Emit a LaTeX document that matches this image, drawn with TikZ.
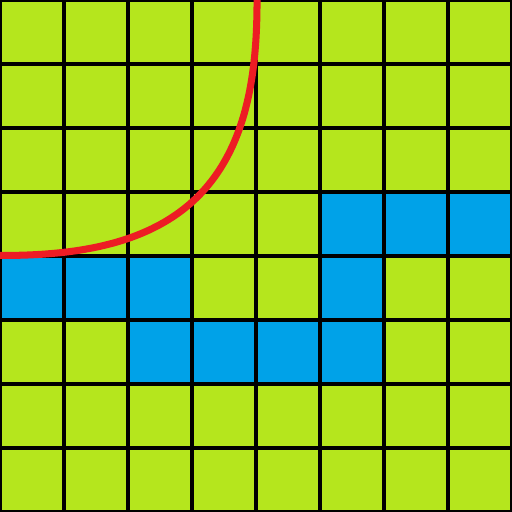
\documentclass[tikz,border=0pt]{standalone}
\definecolor{limeg}{RGB}{181,230,29}
\definecolor{paintblue}{RGB}{0,162,232}
\definecolor{paintred}{RGB}{237,28,36}
\begin{document}
\begin{tikzpicture}[x=0.8cm,y=0.8cm,
  cellfill/.style={fill=paintblue},
  gridline/.style={black,line width=1.25pt},
  curveline/.style={paintred,line width=2.5pt}]
\useasboundingbox (0,0) rectangle (8,8);
\clip (0,0) rectangle (8,8);
\fill[limeg] (0,0) rectangle (8,8);
\foreach \c/\r in {5/4,6/4,7/4,0/3,1/3,2/3,5/3,2/2,3/2,4/2,5/2}
  \fill[cellfill] (\c,\r) rectangle ++(1,1);
\foreach \i in {0,...,8} {
  \draw[gridline] (\i,-0.1) -- (\i,8.1);
  \draw[gridline] (-0.1,\i) -- (8.1,\i);
}
\draw[curveline] (-0.2,4.008) -- plot[domain=2:88,samples=120,variable=\t]
  ({4.016*(1-pow(cos(\t),4.233))},{4.008+3.992*pow(sin(\t),4.233)}) -- (4.016,8.2);
\end{tikzpicture}
\end{document}
